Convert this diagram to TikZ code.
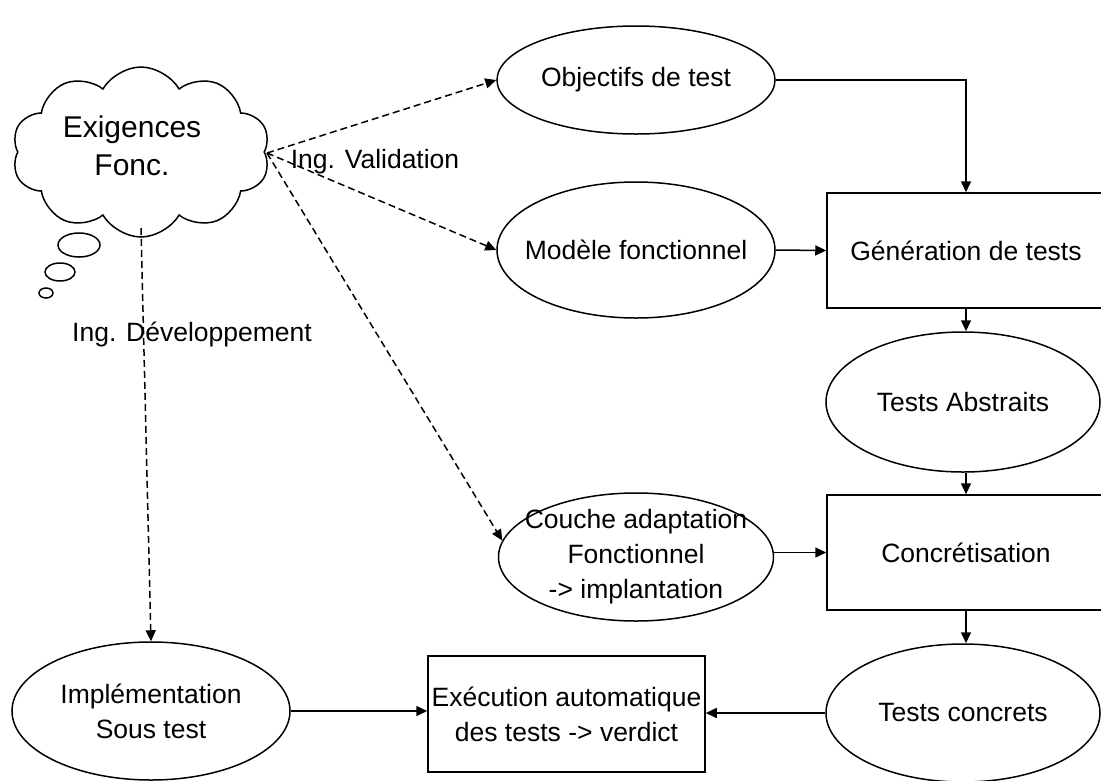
\documentclass[tikz,border=0pt]{standalone}
\usepackage{fontspec}
\setmainfont{Liberation Sans}
\usetikzlibrary{arrows.meta,shapes.geometric,shapes.symbols}
\begin{document}
\begin{tikzpicture}[x=1pt,y=-1pt,
  every node/.style={font=\fontsize{26.5}{35}\selectfont, align=center, inner sep=0pt},
  ell/.style={draw, ellipse, line width=1.5pt},
  boxnode/.style={draw, rectangle, line width=1.5pt},
  arr/.style={line width=1.5pt, -{Triangle[length=11pt,width=10pt]}},
  darr/.style={line width=1.5pt, dash pattern=on 7pt off 4pt, -{Triangle[length=11pt,width=10pt]}},
  lbl/.style={font=\fontsize{26.5}{32}\selectfont}
]
\useasboundingbox (0,0) rectangle (1101,780);
\fill[white] (0,0) rectangle (1101,780);

% cloud
\node[draw, cloud, cloud puffs=10, cloud puff arc=120, aspect=1.7,
      minimum width=258pt, minimum height=170pt, line width=1.5pt,
      label={[font=\fontsize{30}{38}\selectfont, xshift=-9pt, yshift=6pt]center:{Exigences\\Fonc.}}] (cloud) at (141,152) {};
\draw[line width=1.5pt] (79,245) ellipse [x radius=21, y radius=12];
\draw[line width=1.5pt] (60,272) ellipse [x radius=15, y radius=9];
\draw[line width=1.5pt] (46,293) ellipse [x radius=7, y radius=5];

% nodes
\node[ell, minimum width=278pt, minimum height=108pt, label=center:{Objectifs de test}] (obj) at (636,80) {};
\node[ell, minimum width=278pt, minimum height=136pt, label=center:{Modèle fonctionnel}] (mod) at (636,250) {};
\node[boxnode, minimum width=278pt, minimum height=115pt] (gen) at (966,250.5) {Génération de tests};
\node[ell, minimum width=274pt, minimum height=140pt, label=center:{Tests Abstraits}] (abs) at (963,402) {};
\node[boxnode, minimum width=278pt, minimum height=115pt] (conc) at (966,552.5) {Concrétisation};
\node[ell, minimum width=275pt, minimum height=128pt, label=center:{Couche adaptation\\Fonctionnel\\-> implantation}] (couche) at (636,557) {};
\node[ell, minimum width=274pt, minimum height=138pt, label=center:{Tests concrets}] (concr) at (963,713) {};
\node[boxnode, minimum width=277pt, minimum height=116pt] (exec) at (566.5,714) {Exécution automatique\\des tests -> verdict};
\node[ell, minimum width=278pt, minimum height=138pt, label=center:{Implémentation\\Sous test}] (impl) at (151,711) {};

% labels
\node[lbl] (lv) at (375,162) {Ing. Validation};
\node[lbl] (ld) at (192,334) {Ing. Développement};

% dashed connectors
\coordinate (cE) at (267,153);
\coordinate (cS) at (141,228);
\draw[darr] (cE) -- (obj.west);
\draw[darr] (cE) -- (mod.west);
\draw[darr] (cE) -- (couche.173);
\draw[darr] (cS) -- (impl.north);

% solid connectors
\draw[arr] (obj.east) -| (gen.north);
\draw[arr] (mod.east) -- (gen.west);
\draw[arr] (gen.south) -- (gen.south |- abs.north);
\draw[arr] (gen.south |- abs.south) -- (conc.north);
\draw[arr] (couche.east |- conc.west) -- (conc.west);
\draw[arr] (conc.south) -- (conc.south |- concr.north);
\draw[arr] (concr.west) -- (concr.west -| exec.east);
\draw[arr] (impl.east) -- (impl.east -| exec.west);
\end{tikzpicture}
\end{document}
